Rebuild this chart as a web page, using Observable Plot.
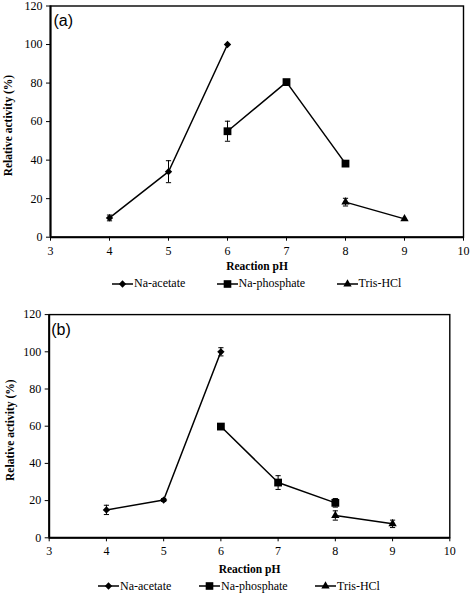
<!DOCTYPE html>
<html>
<head>
<meta charset="utf-8">
<script src="https://cdn.jsdelivr.net/npm/d3@7"></script>
<script src="https://cdn.jsdelivr.net/npm/@observablehq/plot@0.6"></script>
<style>
  html, body { margin: 0; padding: 0; background: #fff; }
  body { width: 472px; height: 596px; position: relative; overflow: hidden; font-family: "Liberation Serif", "Times New Roman", serif; }
  .panel { position: absolute; left: 0; }
  .panel svg { font-family: "Liberation Serif", "Times New Roman", serif !important; }
  .leg { position: absolute; display: flex; align-items: center; font-size: 12px; color: #000; white-space: nowrap; font-family: "Liberation Serif", serif; }
  .leg svg { display: block; margin-right: 1px; }
</style>
</head>
<body>
<div id="pa" class="panel" style="top:0px"></div>
<div id="pb" class="panel" style="top:300px"></div>
<script>
// ---- data ----
const seriesNames = ["Na-acetate", "Na-phosphate", "Tris-HCl"];
const pHAcetate = [4, 5, 6];
const pHPhosphate = [6, 7, 8];
const pHTris = [8, 9];
const xTicks = [3, 4, 5, 6, 7, 8, 9, 10];
const yTicks = [0, 20, 40, 60, 80, 100, 120];

// panel (a)
const aAcetate = [10, 34, 100];
const aAcetateErr = [1.5, 5.7, 0];
const aPhosphate = [55, 80.5, 38.2];
const aPhosphateErr = [5.2, 0, 0];
const aTris = [18.2, 9.5];
const aTrisErr = [2, 0];

// panel (b)
const bAcetate = [15, 20.3, 100];
const bAcetateErr = [2.5, 0.8, 2.2];
const bPhosphate = [59.8, 29.7, 18.8];
const bPhosphateErr = [1.2, 3.7, 2.3];
const bTris = [12, 7.5];
const bTrisErr = [2.5, 2];

const yLabel = "Relative activity (%)";
const xLabel = "Reaction pH";

const serif = "'Liberation Serif', 'Times New Roman', serif";

function rows(name, xs, ys, es) {
  return xs.map((x, i) => ({series: name, x, y: ys[i], lo: ys[i] - es[i], hi: ys[i] + es[i], e: es[i]}));
}

const capSymbol = {
  draw(context, size) {
    const w = 2.6;
    context.moveTo(-w, 0);
    context.lineTo(w, 0);
  }
};

function panel(opts) {
  const data = [
    ...rows(seriesNames[0], pHAcetate, opts.acetate, opts.acetateErr),
    ...rows(seriesNames[1], pHPhosphate, opts.phosphate, opts.phosphateErr),
    ...rows(seriesNames[2], pHTris, opts.tris, opts.trisErr)
  ];
  const errs = data.filter(d => d.e > 0);
  const bySeries = n => data.filter(d => d.series === n);
  return Plot.plot({
    width: 472,
    height: 274,
    marginTop: opts.mt,
    marginLeft: opts.ml,
    marginRight: opts.mr,
    marginBottom: opts.mb,
    style: {fontFamily: serif, fontSize: "12px", color: "black", background: "white", overflow: "visible"},
    x: {domain: [3, 10], label: null},
    y: {domain: [0, 120], label: null},
    marks: [
      Plot.frame({stroke: "black", strokeWidth: 1.4}),
      Plot.ruleY([0], {stroke: "black", strokeWidth: 2}),
      Plot.ruleX([3], {stroke: "black", strokeWidth: 2}),
      Plot.axisX({ticks: xTicks, tickFormat: d => String(d), tickSize: 4, tickPadding: opts.xpad, fontSize: 12, fontFamily: serif, label: null}),
      Plot.axisY({ticks: yTicks, tickFormat: d => String(d), tickSize: 4, tickPadding: 4, fontSize: 12, fontFamily: serif, label: null}),
      Plot.ruleX(errs, {x: "x", y1: "lo", y2: "hi", stroke: "black", strokeWidth: 1}),
      Plot.dot(errs, {x: "x", y: "lo", symbol: capSymbol, stroke: "black", strokeWidth: 1, r: 3}),
      Plot.dot(errs, {x: "x", y: "hi", symbol: capSymbol, stroke: "black", strokeWidth: 1, r: 3}),
      Plot.line(data, {x: "x", y: "y", z: "series", stroke: "black", strokeWidth: 1.5}),
      Plot.dot(bySeries(seriesNames[0]), {x: "x", y: "y", symbol: "diamond2", r: 3.3, fill: "black", stroke: "none"}),
      Plot.dot(bySeries(seriesNames[1]), {x: "x", y: "y", symbol: "square", r: opts.sq, fill: "black", stroke: "none"}),
      Plot.dot(bySeries(seriesNames[2]), {x: "x", y: "y", symbol: "triangle", r: 3.1, fill: "black", stroke: "none"}),
      Plot.text([opts.tag], {frameAnchor: "top-left", dx: opts.tagDx, dy: opts.tagDy, text: d => d, lineAnchor: "middle", textAnchor: "start", fontFamily: "'Liberation Sans', Arial, sans-serif", fontSize: 16}),
      Plot.text([yLabel], {frameAnchor: "left", dx: opts.ylx, dy: opts.yly, rotate: -90, text: d => d, lineAnchor: "middle", textAnchor: "middle", fontWeight: "bold", fontSize: 11.5, fontFamily: serif}),
      Plot.text([xLabel], {frameAnchor: "bottom", dy: opts.xly, text: d => d, lineAnchor: "middle", textAnchor: "middle", fontWeight: "bold", fontSize: 11.5, fontFamily: serif})
    ]
  });
}

document.getElementById("pa").append(panel({
  acetate: aAcetate, acetateErr: aAcetateErr,
  phosphate: aPhosphate, phosphateErr: aPhosphateErr,
  tris: aTris, trisErr: aTrisErr,
  mt: 5.5, ml: 50, mr: 9, mb: 37.3, xpad: 4.8, sq: 4.4,
  tag: "(a)", tagDx: 3, tagDy: 15,
  ylx: -42, yly: 4, xly: 29.5
}));
document.getElementById("pb").append(panel({
  acetate: bAcetate, acetateErr: bAcetateErr,
  phosphate: bPhosphate, phosphateErr: bPhosphateErr,
  tris: bTris, trisErr: bTrisErr,
  mt: 14.1, ml: 48.7, mr: 22.7, mb: 36.7, xpad: 5, sq: 4.4,
  tag: "(b)", tagDx: 2, tagDy: 15.5,
  ylx: -39, yly: 4, xly: 31.4
}));

// ---- legends ----
function swatch(sym) {
  const ns = "http://www.w3.org/2000/svg";
  const svg = document.createElementNS(ns, "svg");
  svg.setAttribute("width", 21);
  svg.setAttribute("height", 12);
  const line = document.createElementNS(ns, "line");
  line.setAttribute("x1", 0); line.setAttribute("x2", 21);
  line.setAttribute("y1", 6); line.setAttribute("y2", 6);
  line.setAttribute("stroke", "black"); line.setAttribute("stroke-width", 1.5);
  svg.append(line);
  const p = document.createElementNS(ns, "path");
  const size = sym === "square" ? 58 : sym === "diamond2" ? 34 : 30;
  const s = {square: d3.symbolSquare, diamond2: d3.symbolDiamond2, triangle: d3.symbolTriangle}[sym];
  p.setAttribute("d", d3.symbol(s, size)());
  p.setAttribute("transform", "translate(10.5,6)");
  p.setAttribute("fill", "black");
  svg.append(p);
  return svg;
}
const legendSymbols = ["diamond2", "square", "triangle"];
function legend(top, lefts) {
  seriesNames.forEach((n, i) => {
    const d = document.createElement("div");
    d.className = "leg";
    d.style.top = top + "px";
    d.style.left = lefts[i] + "px";
    d.append(swatch(legendSymbols[i]));
    const t = document.createElement("span");
    t.textContent = n;
    d.append(t);
    document.body.append(d);
  });
}
legend(276, [112, 216.5, 336.5]);
legend(578.5, [98, 199, 315]);
</script>
</body>
</html>
